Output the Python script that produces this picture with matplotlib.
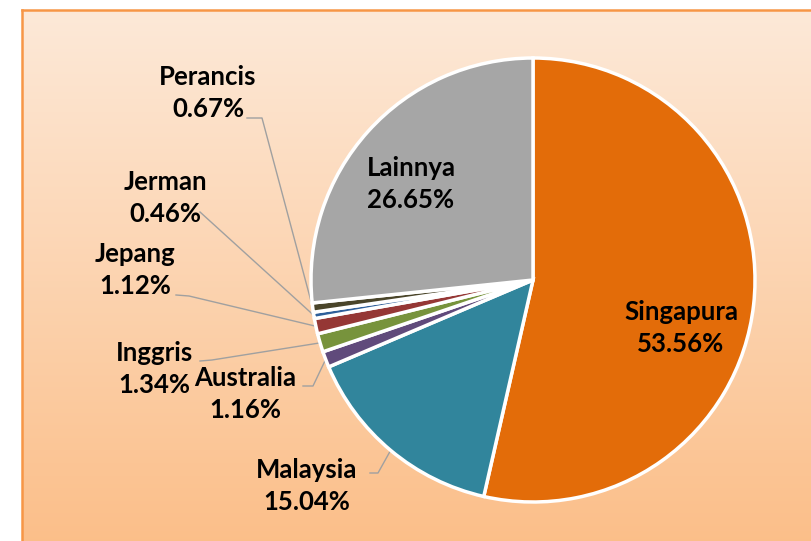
import matplotlib.pyplot as plt
import numpy as np
from matplotlib.colors import LinearSegmentedColormap

negara = ['Singapura', 'Malaysia', 'Australia', 'Inggris', 'Jepang',
          'Jerman', 'Perancis', 'Lainnya']
persen = [53.56, 15.04, 1.16, 1.34, 1.12, 0.46, 0.67, 26.65]
warna = ['#E36C09', '#31859C', '#604A7B', '#77933C', '#953735',
         '#2E5F9A', '#4A452A', '#A6A6A6']

plt.rcParams['font.family'] = ['Lato', 'DejaVu Sans']

W, H = 811, 541
fig = plt.figure(figsize=(W / 100, H / 100), dpi=100)

# latar belakang gradien oranye
bg = fig.add_axes([22 / W, -0.02, 1.02 - 22 / W, 1.02 - 10 / H])
grad = np.linspace(0, 1, 256).reshape(-1, 1)
cmap = LinearSegmentedColormap.from_list('bg', ['#FDE9D8', '#FBBE88'])
bg.imshow(grad, aspect='auto', cmap=cmap, extent=[0, 1, 0, 1], origin='upper')
bg.set_xticks([])
bg.set_yticks([])
for s in bg.spines.values():
    s.set_color('#F79646')
    s.set_linewidth(1.8)

# pie: pusat (533, 280) px, jari-jari 222 px
cx, cy, r = 533, 280, 222
ax = fig.add_axes([(cx - r) / W, (H - cy - r) / H, 2 * r / W, 2 * r / H])
wedges, _ = ax.pie(persen, colors=warna, startangle=90, counterclock=False,
                   wedgeprops=dict(edgecolor='white', linewidth=2.5))
ax.set_xlim(-1, 1)
ax.set_ylim(-1, 1)
ax.axis('off')


def px(x, y):
    return (x - cx) / r, (cy - y) / r


# posisi label (px) dan titik siku garis penunjuk
label_pos = {
    'Singapura': (681, 328), 'Lainnya': (411, 184),
    'Malaysia': (307, 486), 'Australia': (245, 394),
    'Inggris': (154, 369), 'Jepang': (135, 270),
    'Jerman': (165, 198), 'Perancis': (208, 93),
}
leader = {
    'Malaysia': [(370, 473), (378, 473)],
    'Australia': [(303, 386), (313, 386)],
    'Inggris': [(200, 361), (212, 360)],
    'Jepang': [(176, 295), (189, 296)],
    'Jerman': [(200, 212)],
    'Perancis': [(247, 118), (262, 118)],
}

for w, nama, p in zip(wedges, negara, persen):
    tx, ty = px(*label_pos[nama])
    ax.text(tx, ty, f'{nama}\n{p:.2f}%', ha='center', va='center',
            fontsize=18.5, fontweight='bold', color='black',
            linespacing=1.4, clip_on=False)
    if nama in leader:
        mid = np.deg2rad((w.theta1 + w.theta2) / 2)
        pts = [px(*q) for q in leader[nama]] + [(np.cos(mid), np.sin(mid))]
        xs, ys = zip(*pts)
        ax.plot(xs, ys, color='#A0A0A0', linewidth=1.0, clip_on=False,
                zorder=0.5)

fig.savefig('out.png', dpi=100)
